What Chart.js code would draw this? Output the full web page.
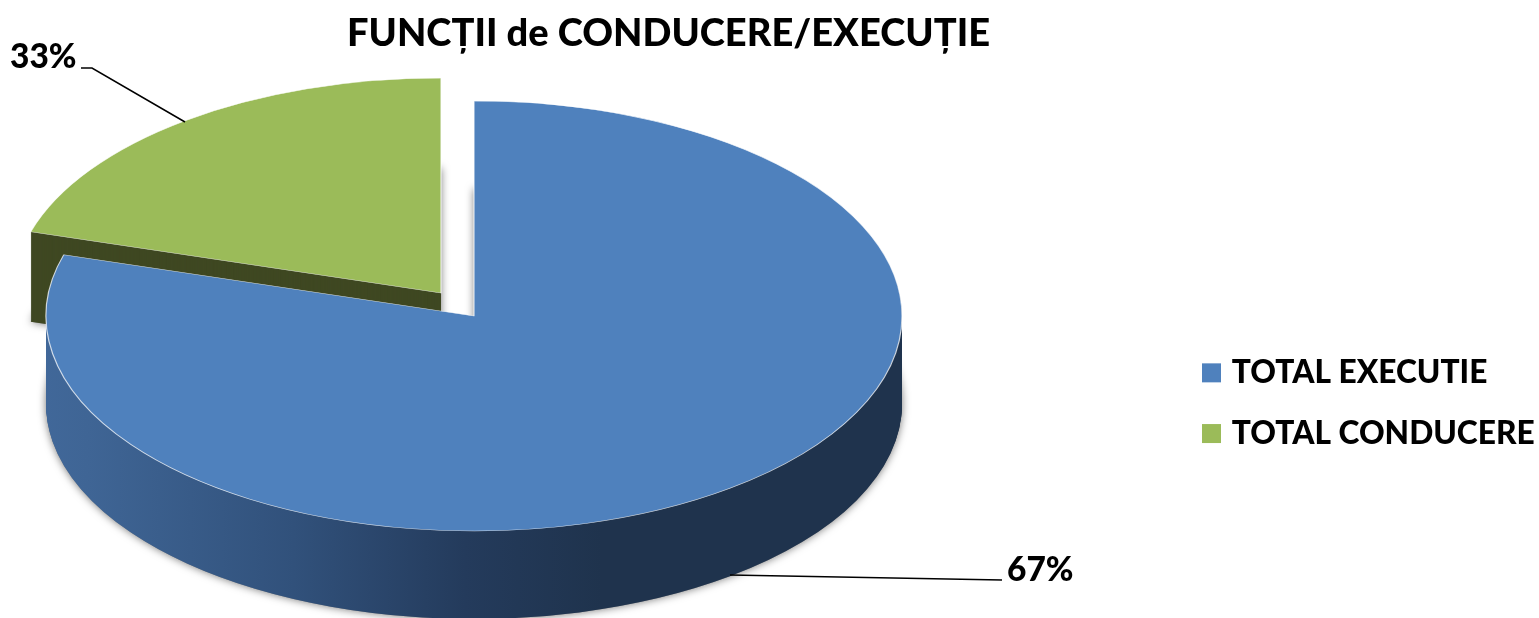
<!DOCTYPE html>
<html>
<head>
<meta charset="utf-8">
<style>html,body{margin:0;padding:0;background:#fff}#w{width:1539px;height:618px;position:relative}</style>
<script src="https://cdn.jsdelivr.net/npm/chart.js@4/dist/chart.umd.min.js"></script>
</head>
<body>
<div id="w"><canvas id="c" width="1539" height="618"></canvas></div>
<script>
const titleText = 'FUNCȚII de CONDUCERE/EXECUȚIE';
const categories = ['TOTAL EXECUTIE', 'TOTAL CONDUCERE'];
const sliceValues = [79.6, 20.4];
const printedLabels = ['67%', '33%'];
const topColors = ['#4f81bd', '#9bbb59'];

const FONT = 'Lato, Carlito, "Open Sans", sans-serif';
const CX = 474, CY = 316, RX = 428, RY = 215;
const explode = [[0, 0], [-33, -23]];
const depth = [88, 90];

function withOpts(el, o, fn) {
  const keep = el.options;
  el.options = Object.assign({offset:0, spacing:0, borderRadius:0, circular:true, borderWidth:0,
    borderColor:'transparent', borderAlign:'center', borderJoinStyle:'round'}, o);
  fn();
  el.options = keep;
}
function place(ctx, el, i, d) {
  const k = RY / RX;
  ctx.translate(CX + explode[i][0], CY + explode[i][1] + d);
  ctx.scale(1, k);
  ctx.translate(-el.x, -el.y);
}
function sideGradient(ctx) {
  const g = ctx.createLinearGradient(CX - RX, 0, CX + RX, 0);
  g.addColorStop(0, '#456ea3');
  g.addColorStop(0.18, '#3f6595');
  g.addColorStop(0.42, '#31517b');
  g.addColorStop(0.62, '#243b5c');
  g.addColorStop(0.78, '#1f334d');
  g.addColorStop(1, '#1f334d');
  return g;
}
const pie3d = {
  id: 'pie3d',
  afterLayout(chart) {
    const t = chart.titleBlock;
    t.left = 347; t.right = 990; t.top = 3; t.bottom = 60;
    const l = chart.legend;
    l.left = 1178; l.right = 1539; l.top = 328; l.bottom = 618;
  },
  beforeDatasetsDraw(chart) {
    const ctx = chart.ctx;
    const arcs = chart.getDatasetMeta(0).data;
    // soft shadow under the base of both slices
    [1, 0].forEach(i => {
      ctx.save();
      place(ctx, arcs[i], i, depth[i]);
      ctx.shadowColor = 'rgba(0,0,0,0.55)';
      ctx.shadowBlur = 9;
      withOpts(arcs[i], {backgroundColor: '#888'}, () => arcs[i].draw(ctx));
      ctx.restore();
    });
    const sideFill = [sideGradient(ctx), '#3f4822'];
    [1, 0].forEach(i => {
      for (let d = depth[i]; d > 0; d--) {
        ctx.save();
        place(ctx, arcs[i], i, d);
        withOpts(arcs[i], {backgroundColor: sideFill[i]}, () => arcs[i].draw(ctx));
        ctx.restore();
      }
      ctx.save();
      place(ctx, arcs[i], i, 0);
      withOpts(arcs[i], {backgroundColor: topColors[i], borderWidth: 1.2, borderColor: 'rgba(255,255,255,0.75)'},
        () => arcs[i].draw(ctx));
      ctx.restore();
    });
    return false;
  },
  afterDraw(chart) {
    const ctx = chart.ctx;
    ctx.save();
    ctx.strokeStyle = '#000';
    ctx.lineWidth = 1.5;
    ctx.beginPath();
    ctx.moveTo(81, 68); ctx.lineTo(92, 68); ctx.lineTo(185, 122);
    ctx.moveTo(730, 575); ctx.lineTo(1002, 580);
    ctx.stroke();
    ctx.fillStyle = '#000';
    ctx.font = '900 33.5px ' + FONT;
    ctx.textBaseline = 'alphabetic';
    ctx.textAlign = 'left';
    ctx.fillText(printedLabels[1], 10, 68);
    ctx.fillText(printedLabels[0], 1007, 581);
    ctx.restore();
  }
};

Chart.defaults.animation = false;
new Chart(document.getElementById('c'), {
  type: 'pie',
  data: {
    labels: categories,
    datasets: [{ data: sliceValues, backgroundColor: topColors, borderWidth: 0 }]
  },
  options: {
    responsive: false,
    animation: false,
    radius: RX,
    layout: { padding: 0 },
    plugins: {
      tooltip: { enabled: false },
      title: {
        display: true,
        text: titleText,
        color: '#000',
        padding: { top: 8, bottom: 8 },
        font: { family: FONT, size: 38.2, weight: '900', lineHeight: 1.2 }
      },
      legend: {
        display: true,
        position: 'right',
        align: 'start',
        labels: {
          color: '#000',
          boxWidth: 9,
          boxHeight: 9,
          padding: 29,
          font: { family: FONT, size: 31.7, weight: '900' },
          generateLabels(chart) {
            return categories.map((text, i) => ({
              text, index: i, fontColor: '#000',
              fillStyle: topColors[i], strokeStyle: topColors[i], lineWidth: 10, hidden: false
            }));
          }
        }
      }
    }
  },
  plugins: [pie3d]
});
</script>
</body>
</html>
